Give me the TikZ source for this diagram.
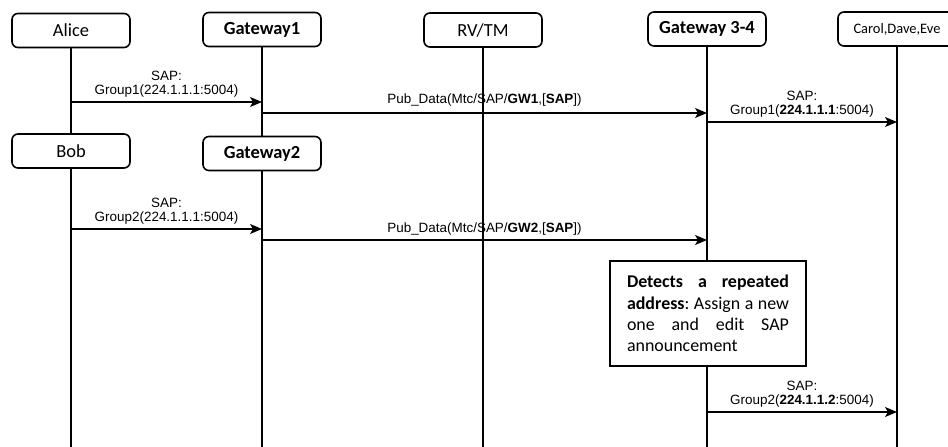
\documentclass[tikz,border=0pt]{standalone}
\usepackage{fontspec}
\setmainfont{Carlito}
\newfontfamily\arialfont{Liberation Sans}
\usetikzlibrary{arrows.meta}

\begin{document}
\begin{tikzpicture}[x=1bp,y=-1bp,
  actor/.style={draw, line width=1.6bp, rounded corners=6bp, fill=white,
    minimum width=118bp, minimum height=34bp, inner sep=0pt,
    font=\fontsize{18.5}{21}\selectfont},
  life/.style={line width=1.6bp},
  msg/.style={line width=1.3bp, -{Stealth[length=12bp,width=10bp,inset=3bp]}},
  msglabel/.style={font=\arialfont\fontsize{13.5}{14.5}\selectfont,
    align=center, anchor=south, inner sep=0pt},
  notebox/.style={draw, line width=1.6bp, fill=white, minimum width=196bp,
    minimum height=105bp, inner sep=0pt, align=left, text width=162bp,
    font=\fontsize{18}{21.3}\selectfont}
]
\useasboundingbox (0,0) rectangle (948,447);

% participants
\node[actor] (alice) at (71,30.5) {Alice};
\node[actor] (gw1) at (262,29.5) {\textbf{Gateway1}};
\node[actor] (rv) at (483,30) {RV/TM};
\node[actor] (gw34) at (707,29) {\textbf{Gateway 3-4}};
\node[actor, font=\fontsize{14.5}{17}\selectfont] (carol) at (897,29) {Carol,Dave,Eve};
\node[actor] (bob) at (71,151) {Bob};
\node[actor] (gw2) at (262,153.5) {\textbf{Gateway2}};

% bottom ends of the lifelines
\coordinate (bottom) at (0,448);

% lifelines
\draw[life] (alice.south) -- (bob.north);
\draw[life] (gw1.south) -- (gw2.north);
\draw[life] (bob.south) -- (bob |- bottom);
\draw[life] (gw2.south) -- (gw2 |- bottom);
\draw[life] (rv.south) -- (rv |- bottom);
\draw[life] (gw34.south) -- (gw34 |- bottom);
\draw[life] (carol.south) -- (carol |- bottom);

% message heights
\coordinate (m1) at (0,102);
\coordinate (m2) at (0,113);
\coordinate (m3) at (0,122);
\coordinate (m4) at (0,229);
\coordinate (m5) at (0,240);
\coordinate (m6) at (0,412);

% messages
\draw[msg] (alice |- m1) -- node[msglabel, above=4bp] {SAP:\\Group1(224.1.1.1:5004)} (gw1 |- m1);
\draw[msg] (gw1 |- m2) -- node[msglabel, above=6bp] {Pub\_Data(Mtc/SAP/\textbf{GW1},[\textbf{SAP}])} (gw34 |- m2);
\draw[msg] (gw34 |- m3) -- node[msglabel, above=4bp] {SAP:\\Group1(\textbf{224.1.1.1}:5004)} (carol |- m3);
\draw[msg] (bob |- m4) -- node[msglabel, above=4bp] {SAP:\\Group2(224.1.1.1:5004)} (gw2 |- m4);
\draw[msg] (gw2 |- m5) -- node[msglabel, above=4bp] {Pub\_Data(Mtc/SAP/\textbf{GW2},[\textbf{SAP}])} (gw34 |- m5);
\draw[msg] (gw34 |- m6) -- node[msglabel, above=4bp] {SAP:\\Group2(\textbf{224.1.1.2}:5004)} (carol |- m6);

% note on the Gateway 3-4 lifeline (justified lines)
\node[notebox] (note) at (708,313.5) {%
  \makebox[162bp][s]{\textbf{Detects}\hfill\textbf{a}\hfill\textbf{repeated}}\\
  \makebox[162bp][s]{\textbf{address}:\hfill Assign\hfill a\hfill new}\\
  \makebox[162bp][s]{one\hfill and\hfill edit\hfill SAP}\\
  announcement};
\end{tikzpicture}
\end{document}
